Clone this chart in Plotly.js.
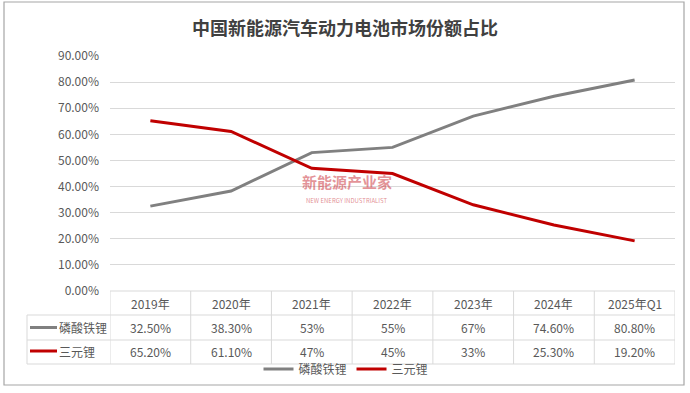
<!DOCTYPE html>
<html><head><meta charset="utf-8">
<script src="https://cdn.plot.ly/plotly-3.0.1.min.js"></script>
<style>html,body{margin:0;padding:0;background:#fff}#chart{width:690px;height:393px}</style>
</head><body><div id="chart"></div>
<script>
// ---- data ----
const chartTitle = '中国新能源汽车动力电池市场份额占比';
const categories = ['2019年', '2020年', '2021年', '2022年', '2023年', '2024年', '2025年Q1'];
const lfpName = '磷酸铁锂';
const lfpValues = [32.5, 38.3, 53, 55, 67, 74.6, 80.8];
const nmcName = '三元锂';
const nmcValues = [65.2, 61.1, 47, 45, 33, 25.3, 19.2];
const yTickValues = [0, 10, 20, 30, 40, 50, 60, 70, 80, 90];
const watermarkText = '新能源产业家';
const watermarkSub = 'NEW ENERGY INDUSTRIALIST';

// ---- geometry helpers (page pixels -> paper) ----
const W = 690, H = 393, ML = 110, MR = 15, MT = 56, MB = 102;
const PW = W - ML - MR, PH = H - MT - MB;
const px = x => (x - ML) / PW;
const py = y => (H - MB - y) / PH;

const FONT = '"Noto Sans CJK SC", "Noto Sans", sans-serif';
const TXT = '#595959';
const GRID = '#d9d9d9';
const GRAY = '#808080';
const RED = '#c00000';

const fmt = v => (Number.isInteger(v) ? v : v.toFixed(2)) + '%';

const series = [
  {name: lfpName, values: lfpValues, color: GRAY},
  {name: nmcName, values: nmcValues, color: RED}
];

const traces = series.map(s => ({
  type: 'scatter', mode: 'lines', name: s.name,
  x: categories, y: s.values.map(v => v / 100),
  line: {color: s.color, width: 3},
  hoverinfo: 'skip'
}));

// table geometry (pixels)
const rowTop = 291, rowH1 = 315, rowH2 = 340, rowBot = 364, labelLeft = 27;
const rowCenters = [(rowTop + rowH1) / 2, (rowH1 + rowH2) / 2, (rowH2 + rowBot) / 2 - 1];

const shapes = [];
const annotations = [];
const tl = {color: GRID, width: 1};

// horizontal table lines
shapes.push({type: 'line', xref: 'paper', yref: 'paper', x0: px(ML), x1: px(W - MR), y0: py(rowTop), y1: py(rowTop), line: tl});
[rowH1, rowH2, rowBot].forEach(y => shapes.push({type: 'line', xref: 'paper', yref: 'paper', x0: px(labelLeft), x1: px(W - MR), y0: py(y), y1: py(y), line: tl}));
// vertical table lines at category boundaries
for (let k = 0; k <= categories.length; k++) {
  shapes.push({type: 'line', xref: 'x', yref: 'paper', x0: k - 0.5, x1: k - 0.5, y0: py(rowTop), y1: py(rowBot), line: tl});
}
shapes.push({type: 'line', xref: 'paper', yref: 'paper', x0: px(labelLeft), x1: px(labelLeft), y0: py(rowH1), y1: py(rowBot), line: tl});

// header
categories.forEach((c, i) => annotations.push({
  xref: 'x', yref: 'paper', x: i, y: py(rowCenters[0]), text: c, showarrow: false,
  font: {family: FONT, size: 12, color: TXT}, xanchor: 'center', yanchor: 'middle'
}));
// rows
series.forEach((s, r) => {
  const yc = py(rowCenters[r + 1]);
  s.values.forEach((v, i) => annotations.push({
    xref: 'x', yref: 'paper', x: i, y: yc, text: fmt(v), showarrow: false,
    font: {family: FONT, size: 12, color: TXT}, xanchor: 'center', yanchor: 'middle'
  }));
  shapes.push({type: 'line', xref: 'paper', yref: 'paper', x0: px(30), x1: px(57), y0: yc, y1: yc, line: {color: s.color, width: 3}});
  annotations.push({xref: 'paper', yref: 'paper', x: px(57), y: yc, text: s.name, showarrow: false,
    font: {family: FONT, size: 12, color: TXT}, xanchor: 'left', yanchor: 'middle'});
});

// outer border
shapes.push({type: 'rect', xref: 'paper', yref: 'paper', x0: px(4), x1: px(684), y0: py(2), y1: py(385),
  line: {color: '#a6a6a6', width: 1.2}, layer: 'below'});

// watermark
annotations.push({xref: 'paper', yref: 'paper', x: px(347), y: py(181), text: '<b>' + watermarkText + '</b>', showarrow: false,
  font: {family: FONT, size: 15, color: 'rgba(200,40,50,0.5)'}, xanchor: 'center', yanchor: 'middle'});
annotations.push({xref: 'paper', yref: 'paper', x: px(347), y: py(200), text: watermarkSub, showarrow: false,
  font: {family: FONT, size: 6, color: 'rgba(200,40,50,0.55)'}, xanchor: 'center', yanchor: 'middle'});

const layout = {
  width: W, height: H,
  margin: {l: ML, r: MR, t: MT, b: MB, autoexpand: false},
  paper_bgcolor: '#fff', plot_bgcolor: '#fff',
  title: {text: chartTitle, x: 0.5, xref: 'container', xanchor: 'center', y: 1 - 29 / H, yref: 'container', yanchor: 'middle',
    font: {family: FONT, size: 18, color: '#404040', weight: 'bold'}},
  xaxis: {type: 'category', range: [-0.5, categories.length - 0.5], showticklabels: false, showgrid: false,
    zeroline: false, showline: false, fixedrange: true},
  yaxis: {range: [0, 0.9], tickvals: yTickValues.map(v => v / 100), tickformat: '.2%', showgrid: true, gridcolor: GRID,
    gridwidth: 1, zeroline: false, showline: false, ticks: '', ticklabelstandoff: 10,
    tickfont: {family: FONT, size: 12, color: TXT}, fixedrange: true},
  showlegend: true,
  legend: {orientation: 'h', x: px(346), xanchor: 'center', y: py(369), yanchor: 'middle',
    font: {family: FONT, size: 12, color: TXT}, bgcolor: 'rgba(255,255,255,0)', borderwidth: 0, itemwidth: 30,
    tracegroupgap: 0},
  shapes: shapes,
  annotations: annotations
};

Plotly.newPlot('chart', traces, layout, {displayModeBar: false, staticPlot: true});
</script>
</body></html>
